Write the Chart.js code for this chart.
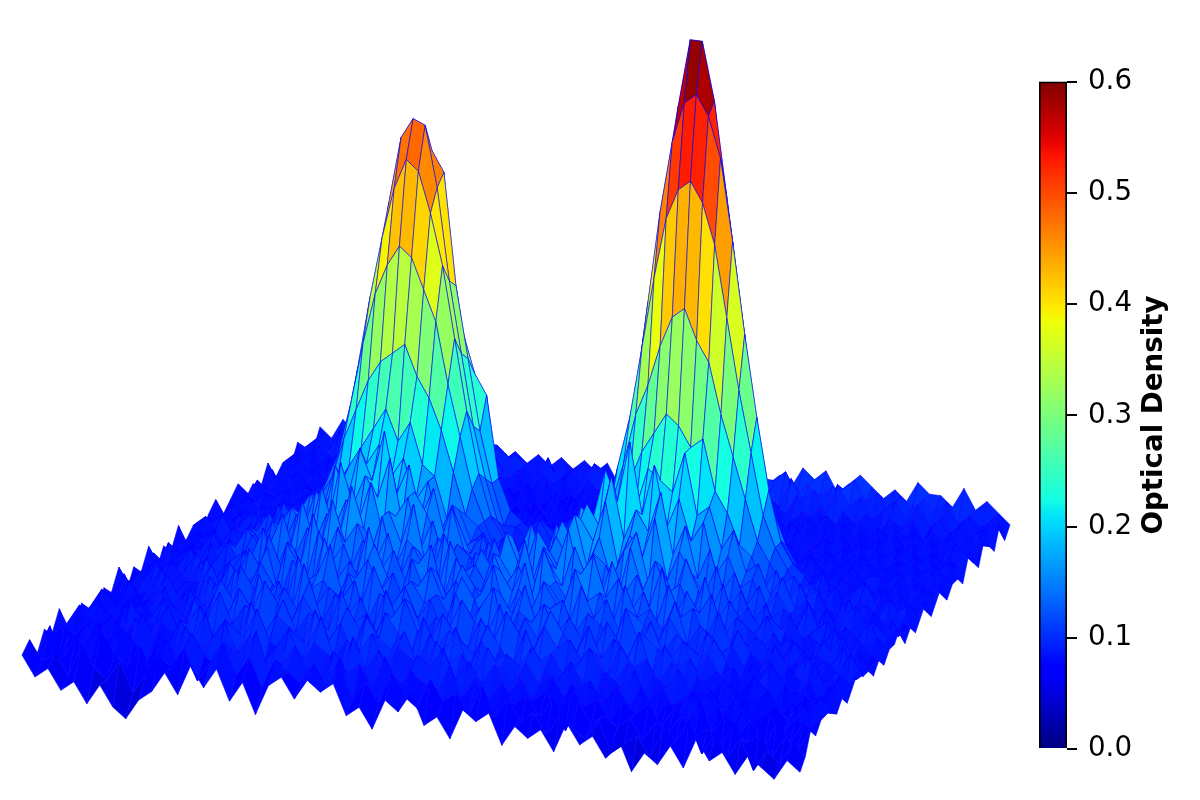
<!DOCTYPE html>
<html>
<head>
<meta charset="utf-8">
<script src="https://cdn.jsdelivr.net/npm/chart.js@4/dist/chart.umd.min.js"></script>
<style>
  html, body { margin: 0; background: #fff; overflow: hidden; }
  #surface { position: absolute; left: 0; top: 0; }
  #colorbar { position: absolute; left: 1020px; top: 54px; }
</style>
</head>
<body>
<canvas id="surface" width="1200" height="800"></canvas>
<canvas id="colorbar" width="170" height="725"></canvas>
<script>
// optical density x100. row 0 = front edge, row 40 = back edge
const densityRows = [
[7,5,6,4,5,3,5,3,2,4, 5,7,5,8,6,8,5,7,4,7, 8,6,8,7,8,5,6,4,7,6, 8,5,6,4,7,6,7,4,6,5, 6,4,7,5,6,4,6,3,5,4, 6,4,7,5,6,4,6,5,4,6,5],
[8,6,7,5,8,6,5,7,4,6, 8,7,9,6,8,10,7,9,6,9, 8,7,9,7,10,6,8,6,9,7, 6,9,7,8,6,9,6,8,6,7, 5,7,6,5,7,4,5,6,4,7, 6,8,5,7,5,7,4,6,5,7,6],
[6,9,6,8,6,9,7,6,8,5, 9,7,10,8,7,9,8,11,7,8, 10,8,7,10,8,9,7,10,6,9, 8,7,10,7,9,7,9,7,8,6, 8,5,8,6,7,6,7,5,7,6, 8,6,7,5,8,6,7,5,7,6,8],
[8,5,8,7,9,6,9,8,6,9, 7,10,8,9,11,8,10,7,9,11, 8,10,9,7,11,8,10,8,7,10, 9,11,8,10,8,10,7,9,7,8, 6,9,7,8,6,8,7,8,6,8, 7,9,6,8,6,8,5,8,6,8,7],
[7,8,6,9,7,8,7,10,8,7, 10,8,11,7,10,9,12,9,8,10, 9,12,8,10,9,11,8,10,9,8, 11,9,10,8,11,9,8,10,8,9, 7,8,9,7,9,7,9,6,8,7, 9,7,8,6,9,7,8,6,8,7,8],
[9,6,8,6,9,7,9,7,9,8, 9,11,8,10,8,12,9,11,10,8, 12,9,11,8,12,10,9,11,8,11, 9,12,8,11,9,10,9,11,9,8, 10,8,7,9,8,10,7,9,7,8, 7,9,7,9,7,6,8,7,9,7,8],
[7,9,7,8,6,10,8,8,10,7, 11,9,12,9,11,10,8,12,9,11, 10,8,12,10,9,12,10,8,12,9, 11,10,9,12,10,8,12,9,10,8, 9,11,9,8,10,7,9,8,10,8, 8,6,9,7,8,9,7,8,6,9,8],
[6,8,9,7,9,7,8,10,7,9, 8,11,9,12,10,13,11,9,12,10, 9,13,10,11,9,11,13,10,9,12, 10,9,12,10,13,11,9,12,10,11, 9,10,8,11,9,10,8,10,8,9, 7,9,8,6,9,7,9,6,8,7,7],
[8,7,7,9,7,9,7,9,8,10, 9,12,10,8,13,10,12,10,13,9, 12,10,12,9,13,10,12,9,11,10, 13,11,10,13,9,12,10,13,11,9, 12,9,11,9,12,8,11,9,10,8, 9,8,7,9,8,6,8,8,7,9,8],
[7,9,8,6,8,8,10,7,10,8, 11,9,13,11,10,12,9,14,10,12, 11,13,9,12,11,13,10,12,9,13, 10,12,14,9,12,11,13,10,12,10, 9,12,10,8,11,10,9,11,8,10, 8,9,7,8,10,8,7,9,6,8,7],
[6,8,7,9,7,9,7,9,8,11, 9,12,10,13,11,9,14,11,12,10, 13,10,14,11,9,13,11,12,10,14, 12,9,13,11,14,10,12,13,10,12, 11,9,13,10,12,9,11,10,9,11, 9,7,9,8,7,9,8,10,7,9,8],
[8,6,9,7,8,10,8,7,10,9, 12,10,11,14,9,13,11,12,15,10, 12,14,11,13,10,12,14,11,13,10, 12,15,10,13,11,14,12,10,14,11, 13,10,12,11,9,12,10,8,11,9, 10,8,7,9,7,8,10,7,8,7,9],
[7,9,7,8,10,7,9,9,11,8, 10,13,11,9,14,12,10,15,11,13, 11,15,12,10,14,11,13,10,14,12, 10,14,12,15,10,13,11,15,12,13, 10,14,11,12,10,13,9,11,10,8, 11,9,8,10,8,9,7,9,8,10,8],
[9,7,8,10,7,9,8,11,8,10, 12,9,14,11,13,10,15,12,14,11, 16,12,14,11,13,15,10,14,12,11, 15,12,14,11,16,13,11,14,16,12, 14,11,13,10,14,11,12,9,12,9, 8,10,9,7,10,8,9,8,10,7,8],
[6,8,9,7,9,8,10,8,10,9, 11,14,10,13,11,16,12,15,11,14, 12,15,11,14,12,10,15,12,13,11, 14,12,16,11,14,12,16,13,11,15, 12,14,11,15,10,13,11,13,9,11, 10,8,10,8,9,7,10,8,7,9,7],
[8,7,7,9,8,10,9,7,10,11, 9,12,15,11,14,12,17,13,15,12, 16,11,14,13,11,15,12,10,14,12, 16,13,11,15,13,17,12,15,14,11, 16,12,15,12,13,10,14,10,12,10, 9,11,8,9,7,9,8,10,8,7,8],
[7,9,8,8,10,7,9,11,9,12, 10,13,11,16,12,15,13,18,14,12, 16,13,17,11,14,12,10,13,12,11, 15,12,16,14,12,18,13,16,12,15, 17,12,14,11,15,12,10,13,9,11, 9,10,9,7,9,8,10,7,9,8,7],
[9,7,9,7,8,10,8,10,12,10, 13,11,14,12,17,13,16,14,18,13, 15,17,12,15,11,13,12,10,14,11, 13,16,12,15,13,17,15,19,13,16, 14,18,12,15,13,11,14,10,12,9, 11,8,10,8,9,10,7,9,8,9,8],
[6,9,8,9,7,9,10,8,11,9, 12,14,12,16,13,19,15,18,16,20, 14,17,15,12,16,12,10,13,11,12, 10,14,12,16,14,18,16,21,15,18, 16,20,14,17,12,15,11,13,10,12, 9,10,8,11,8,7,9,8,10,7,8],
[8,7,7,8,10,8,9,11,9,11, 10,13,15,12,18,15,20,17,22,16, 19,14,17,12,14,11,13,10,12,10, 13,11,15,13,17,16,21,18,24,17, 22,16,19,15,17,12,14,11,12,9, 11,9,9,7,10,8,8,7,9,8,9],
[7,8,9,7,8,10,8,10,12,10, 13,11,14,13,16,14,18,20,17,19, 15,17,12,15,11,12,9,12,10,11, 9,12,10,13,12,15,14,18,17,21, 20,19,23,17,18,14,16,12,13,10, 12,9,10,8,7,9,10,8,7,9,7],
[9,6,8,9,7,9,9,11,9,11, 10,12,13,15,17,19,21,23,20,22, 18,17,13,14,11,12,10,11,9,12, 10,9,12,11,13,14,17,19,22,24, 26,25,23,24,19,17,14,13,10,12, 9,11,8,9,8,10,7,9,8,7,8],
[7,8,7,10,8,8,10,9,12,10, 11,13,15,19,22,25,27,28,29,26, 24,21,17,13,12,10,11,9,11,10, 8,11,9,13,12,16,20,25,28,32, 35,36,33,31,26,22,18,14,12,10, 11,9,10,7,9,8,9,8,10,8,7],
[8,9,8,7,9,10,8,11,9,10, 12,14,17,22,28,33,36,38,37,34, 31,25,20,15,12,9,10,8,10,9, 11,8,10,12,14,19,24,31,38,44, 47,48,46,42,35,28,22,16,13,11, 9,10,8,10,7,9,7,9,8,9,8],
[6,8,9,8,7,9,9,8,10,9, 11,14,18,25,32,38,43,46,45,41, 36,29,22,16,12,10,8,9,7,10, 8,10,9,11,13,19,26,35,44,51, 55,56,54,50,42,33,25,18,13,11, 10,8,9,7,9,10,8,7,9,7,9],
[8,7,7,9,8,8,10,8,9,11, 10,13,18,25,33,41,47.5,49.5,49,43, 34,27,20,15,11,9,8,10,8,9, 7,9,8,10,13,18,25,35,45,54, 60.7,60.7,55,46,36,26,19,14,11,9, 8,10,7,9,8,7,9,8,7,8,7],
[9,7,8,7,9,7,8,9,8,10, 9,12,15,21,28,35,41,45,46,44, 33,26,19,14,10,10,9,11,9,10, 9,10,9,9,12,16,22,31,40,48, 53,53,49,41,32,23,17,12,10,8, 9,7,9,8,9,8,7,9,8,9,8],
[7,8,9,8,8,9,7,10,8,9, 10,9,12,15,19,24,29,33,34,32, 28,24,22,14,11,10,9,10,9,11, 9,10,7,8,11,14,19,25,31,37, 40,41,37,31,25,19,14,11,9,8, 7,9,8,7,9,9,8,7,9,7,9],
[8,6,8,9,7,8,9,8,10,8, 9,10,9,11,14,17,19,21,23,21, 19,18,15,11,9,9,10,9,10,9, 10,9,8,9,9,11,14,17,21,24, 26,27,24,21,17,14,11,9,8,9, 8,7,9,8,7,8,9,8,7,8,7],
[9,8,7,8,9,7,9,7,9,10, 8,9,10,10,11,13,14,15,14,13, 11,10,9,8,8,9,7,8,6,8, 7,8,9,7,8,9,10,12,13,15, 15,16,15,13,12,10,9,8,9,7, 9,8,7,9,8,7,8,9,7,9,8],
[7,9,8,7,8,9,8,9,8,9, 10,8,9,8,9,10,10,9,10,9, 9,8,9,7,9,7,8,6,8,7, 8,6,8,8,9,8,9,9,10,10, 11,10,10,9,9,8,9,7,8,9, 7,8,9,7,8,9,7,8,9,7,8],
[8,7,9,8,7,8,9,7,9,8, 9,8,10,7,9,8,9,8,8,9, 7,9,8,9,7,8,6,8,7,8, 6,8,7,9,7,9,8,8,9,8, 9,8,9,8,7,9,7,9,7,8, 9,7,8,9,7,8,9,7,8,9,7],
[7,9,7,9,8,7,9,8,7,9, 8,9,7,9,8,9,7,9,8,7, 9,7,8,7,8,7,8,7,9,6, 8,7,8,7,9,7,9,8,7,9, 8,7,8,9,8,7,9,8,9,7, 8,9,7,8,9,7,8,9,7,8,9],
[9,7,8,7,9,8,7,9,8,7, 9,8,9,7,9,8,8,7,9,8, 7,8,6,8,7,9,6,8,7,8, 7,9,7,8,7,8,7,9,8,7, 9,8,7,9,7,9,8,7,8,9, 7,8,9,7,8,9,7,8,7,9,8],
[7,8,9,8,7,9,8,7,9,8, 7,9,8,8,7,9,8,9,7,8, 9,6,8,7,9,7,8,6,8,9, 7,8,9,7,8,9,8,7,9,8, 7,9,8,7,9,8,7,9,8,7, 9,7,8,9,7,8,9,7,9,8,7],
[8,9,7,8,9,7,9,8,7,9, 8,7,9,7,9,7,8,7,9,8, 7,9,7,8,6,8,7,9,7,8, 9,7,8,9,7,9,7,9,8,7, 9,7,9,8,7,9,8,7,9,8, 7,9,8,7,9,8,7,9,8,7,9],
[7,8,9,7,8,9,7,9,8,9, 7,9,8,9,8,9,7,8,9,7, 8,7,9,7,8,7,9,7,8,9, 7,9,8,7,9,7,9,8,7,9, 8,9,7,8,9,7,9,8,7,9, 8,7,9,8,7,9,8,7,9,8,8],
[9,7,9,8,9,8,9,7,10,8, 9,8,10,8,10,8,9,10,8,9, 7,9,8,9,7,9,8,7,9,7, 9,8,7,9,8,9,7,9,8,10, 7,9,8,10,8,9,7,9,8,9, 7,9,8,9,7,9,8,9,8,9,7],
[8,9,8,10,8,10,8,10,9,11, 9,11,9,11,8,11,9,8,10,9, 8,10,7,9,8,10,8,9,8,9, 8,7,10,8,9,10,8,10,9,11, 9,8,11,9,10,8,11,9,10,8, 9,10,8,10,8,9,7,9,7,8,9],
[7,9,8,10,9,10,9,10,10,11, 9,10,9,11,9,10,10,9,9,8, 9,8,9,8,9,9,8,9,8,9, 7,9,8,10,9,10,9,10,8,10, 10,11,9,10,9,10,10,11,9,10, 8,10,9,10,9,10,8,9,8,9,7],
[9,8,10,9,10,9,10,8,9,8, 8,9,8,10,9,9,8,9,8,9, 8,9,8,9,8,9,7,8,8,9, 8,9,9,8,10,9,10,9,10,9, 10,9,11,10,11,9,10,11,10,9, 10,9,11,10,10,9,11,9,10,9,8]
];

const colorbarLevels = [0.6];
const colorbarTicks = ['0.0', '0.1', '0.2', '0.3', '0.4', '0.5', '0.6'];
const colorbarTitle = 'Optical Density';

// matplotlib jet segments
const jetRed = [[0, 0], [0.35, 0], [0.66, 1], [0.89, 1], [1, 0.5]];
const jetGreen = [[0, 0], [0.125, 0], [0.375, 1], [0.64, 1], [0.91, 0], [1, 0]];
const jetBlue = [[0, 0.5], [0.11, 1], [0.34, 1], [0.65, 0], [1, 0]];

function segment(stops, t) {
  for (let i = 1; i < stops.length; i++) {
    if (t <= stops[i][0]) {
      const a = stops[i - 1], b = stops[i];
      return a[1] + (b[1] - a[1]) * (t - a[0]) / (b[0] - a[0]);
    }
  }
  return stops[stops.length - 1][1];
}

function jet(t) {
  t = Math.min(1, Math.max(0, t));
  const r = Math.round(255 * segment(jetRed, t));
  const g = Math.round(255 * segment(jetGreen, t));
  const b = Math.round(255 * segment(jetBlue, t));
  return `rgb(${r},${g},${b})`;
}

// ground corners of the tilted plane, in the surface chart's units
const left = [22, 655], back = [320, 447], right = [1010, 535], front = [800, 752];
const heightScale = 1017, groundLevel = 0.07, densityMax = 0.6;
const rowCount = densityRows.length - 1, colCount = densityRows[0].length - 1;

function project(r, c) {
  const u = c / colCount, v = r / rowCount;
  const x = (1 - u) * (1 - v) * left[0] + u * (1 - v) * front[0] + (1 - u) * v * back[0] + u * v * right[0];
  const y = (1 - u) * (1 - v) * left[1] + u * (1 - v) * front[1] + (1 - u) * v * back[1] + u * v * right[1];
  return { x: x, y: y - (densityRows[r][c] / 100 - groundLevel) * heightScale };
}

// first dataset is painted last, so go from the front corner to the back
const quads = [];
for (let r = 0; r < rowCount; r++) {
  for (let c = colCount - 1; c >= 0; c--) {
    const corners = [densityRows[r][c], densityRows[r][c + 1], densityRows[r + 1][c], densityRows[r + 1][c + 1]];
    const mean = corners.reduce((a, b) => a + b, 0) / 4;
    // the grid is coarser than the original, lean a bit on the high corner so the bands land at the right height
    const level = (0.7 * mean + 0.3 * Math.max(...corners)) / 100;
    quads.push({
      data: [project(r, c), project(r, c + 1), project(r + 1, c + 1), project(r + 1, c), project(r, c)],
      showLine: true,
      fill: 'shape',
      backgroundColor: jet(level / densityMax),
      borderColor: 'rgba(0,0,255,0.85)',
      borderWidth: 0.7,
      pointRadius: 0,
      tension: 0
    });
  }
}

new Chart(document.getElementById('surface'), {
  type: 'scatter',
  data: { datasets: quads },
  options: {
    responsive: false,
    animation: false,
    events: [],
    parsing: false,
    layout: { padding: 0 },
    plugins: { legend: { display: false }, tooltip: { enabled: false } },
    scales: {
      x: { type: 'linear', min: 0, max: 1200, display: false },
      y: { type: 'linear', min: 0, max: 800, reverse: true, display: false }
    }
  }
});

function colorbarFill(context) {
  const area = context.chart.chartArea;
  if (!area) return '#0000ff';
  const g = context.chart.ctx.createLinearGradient(0, area.bottom, 0, area.top);
  for (let i = 0; i <= 64; i++) g.addColorStop(i / 64, jet(i / 64));
  return g;
}

// matplotlib writes the colorbar label bottom to top, chart.js right axes do the opposite
const colorbarLabel = {
  id: 'colorbarLabel',
  afterDraw(chart) {
    const { ctx } = chart;
    ctx.save();
    ctx.translate(135, 361);
    ctx.rotate(-Math.PI / 2);
    ctx.font = 'bold 27.7px "DejaVu Sans"';
    ctx.fillStyle = '#000';
    ctx.textAlign = 'center';
    ctx.textBaseline = 'middle';
    ctx.fillText(colorbarTitle, 0, 0);
    ctx.restore();
  }
};

new Chart(document.getElementById('colorbar'), {
  type: 'bar',
  data: {
    labels: [''],
    datasets: [{
      data: colorbarLevels,
      backgroundColor: colorbarFill,
      borderColor: '#000',
      borderWidth: 2,
      barPercentage: 1,
      categoryPercentage: 1
    }]
  },
  plugins: [colorbarLabel],
  options: {
    responsive: false,
    animation: false,
    events: [],
    layout: { padding: { left: 19, top: 19, bottom: 30 } },
    plugins: { legend: { display: false }, tooltip: { enabled: false } },
    scales: {
      x: { display: false },
      y: {
        position: 'right',
        min: 0,
        max: 0.6,
        afterFit(scale) { scale.width = 123; },
        grid: { drawOnChartArea: false, tickLength: 10, color: '#000', lineWidth: 2 },
        border: { display: false },
        ticks: {
          stepSize: 0.1,
          padding: 11,
          color: '#000',
          font: { family: '"DejaVu Sans"', size: 27.7 },
          callback(value, i) { return colorbarTicks[i]; }
        }
      }
    }
  }
});
</script>
</body>
</html>
